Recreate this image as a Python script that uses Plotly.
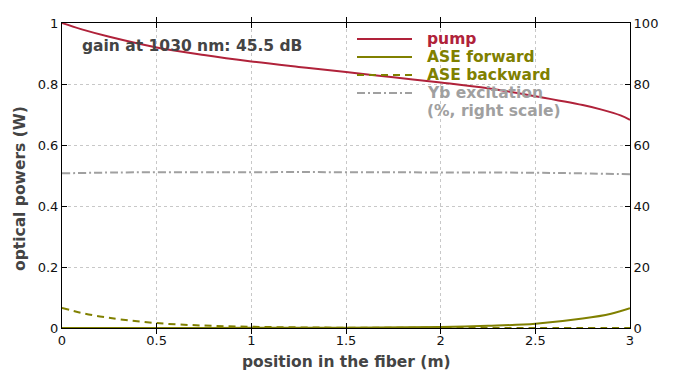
import plotly.graph_objects as go

# ---- data ----
pump_x = [0, 0.1, 0.25, 0.5, 0.75, 1.0, 1.25, 1.5, 1.75, 2.0, 2.25, 2.5, 2.75, 2.85, 2.95, 3.0]
pump_y = [1.0, 0.980, 0.955, 0.920, 0.895, 0.874, 0.856, 0.839, 0.822, 0.805, 0.786, 0.760, 0.731, 0.716, 0.697, 0.682]

fwd_x = [0, 0.5, 1.0, 1.5, 2.0, 2.25, 2.5, 2.75, 2.9, 3.0]
fwd_y = [0.0, 0.0, 0.0005, 0.001, 0.003, 0.007, 0.014, 0.031, 0.047, 0.065]

bwd_x = [0, 0.1, 0.2, 0.3, 0.5, 0.75, 1.0, 1.25, 1.5, 2.0, 2.5, 3.0]
bwd_y = [0.066, 0.05, 0.038, 0.029, 0.016, 0.008, 0.004, 0.002, 0.001, 0.0005, 0.0002, 0.0]

yb_x = [0, 0.3, 1.0, 1.5, 2.0, 2.5, 2.75, 3.0]
yb_y = [50.7, 51.0, 51.1, 51.1, 51.0, 50.9, 50.7, 50.4]

x_ticks = [0, 0.5, 1, 1.5, 2, 2.5, 3]
x_labels = ["0", "0.5", "1", "1.5", "2", "2.5", "3"]
y_ticks = [0, 0.2, 0.4, 0.6, 0.8, 1]
y_labels = ["0", "0.2", "0.4", "0.6", "0.8", "1"]
y2_ticks = [0, 20, 40, 60, 80, 100]

legend_labels = ["pump", "ASE forward", "ASE backward", "Yb excitation", "(%, right scale)"]

PUMP = "#b0223a"
ASE = "#808000"
YB = "#a0a0a0"
FONT = "DejaVu Sans"
BWD_DASH = "7px,5px"
YB_DASH = "8px,3px,2px,3px"

fig = go.Figure()
fig.add_trace(go.Scatter(x=pump_x, y=pump_y, mode="lines", line=dict(color=PUMP, width=2, shape="spline"),
                         name=legend_labels[0]))
fig.add_trace(go.Scatter(x=fwd_x, y=fwd_y, mode="lines", line=dict(color=ASE, width=2, shape="spline"),
                         name=legend_labels[1]))
fig.add_trace(go.Scatter(x=bwd_x, y=bwd_y, mode="lines", line=dict(color=ASE, width=2, dash=BWD_DASH, shape="spline"),
                         name=legend_labels[2]))
fig.add_trace(go.Scatter(x=yb_x, y=yb_y, mode="lines", yaxis="y2",
                         line=dict(color=YB, width=2, dash=YB_DASH, shape="spline"),
                         name=legend_labels[3]))

axis_common = dict(showline=True, linecolor="black", linewidth=1, ticks="inside", ticklen=5,
                   tickcolor="black", tickfont=dict(family=FONT, size=13, color="#111"),
                   zeroline=False, automargin=False)
grid = dict(showgrid=True, gridcolor="#c8c8c8", griddash="3px,3px", gridwidth=1)

# manual legend (paper coordinates of the plot area)
def px_x(p):
    return (p - 62) / 568.0

def px_y(p):
    return (328 - p) / 305.0

rows = [39, 57, 75, 93, 111]
colors = [PUMP, ASE, ASE, YB, YB]
dashes = ["solid", "solid", BWD_DASH, YB_DASH, None]
shapes = []
annotations = []
for i, (r, c, d) in enumerate(zip(rows, colors, dashes)):
    if d is not None:
        shapes.append(dict(type="line", xref="paper", yref="paper", x0=px_x(357), x1=px_x(412),
                           y0=px_y(r), y1=px_y(r), line=dict(color=c, width=2, dash=d)))
    annotations.append(dict(x=px_x(425), y=px_y(r), xref="paper", yref="paper", xanchor="left",
                            yanchor="middle", showarrow=False, text="<b>%s</b>" % legend_labels[i],
                            font=dict(family=FONT, size=15.5, color=c)))

annotations.append(dict(x=px_x(80), y=px_y(46), xref="paper", yref="paper", xanchor="left", yanchor="middle",
                        text="<b>gain at 1030 nm: 45.5 dB</b>", showarrow=False,
                        font=dict(family=FONT, size=15.5, color="#444")))
# axis titles
annotations.append(dict(x=px_x(346), y=px_y(362), xref="paper", yref="paper", xanchor="center", yanchor="middle",
                        text="<b>position in the fiber (m)</b>", showarrow=False,
                        font=dict(family=FONT, size=15.5, color="#444")))
annotations.append(dict(x=px_x(20), y=px_y(189), xref="paper", yref="paper", xanchor="center", yanchor="middle",
                        text="<b>optical powers (W)</b>", showarrow=False, textangle=-90,
                        font=dict(family=FONT, size=15.5, color="#444")))

fig.update_layout(
    width=692, height=367,
    margin=dict(l=54, r=70, t=15, b=47),
    paper_bgcolor="white", plot_bgcolor="white",
    font=dict(family=FONT),
    showlegend=False,
    xaxis=dict(range=[0, 3], tickvals=x_ticks, ticktext=x_labels, mirror="allticks",
               **grid, **axis_common),
    yaxis=dict(range=[0, 1], tickvals=y_ticks, ticktext=y_labels, mirror=True,
               **grid, **axis_common),
    yaxis2=dict(range=[0, 100], tickvals=y2_ticks, overlaying="y", side="right", showgrid=False,
                **axis_common),
    shapes=shapes,
    annotations=annotations,
)

fig.write_html("out.html")
